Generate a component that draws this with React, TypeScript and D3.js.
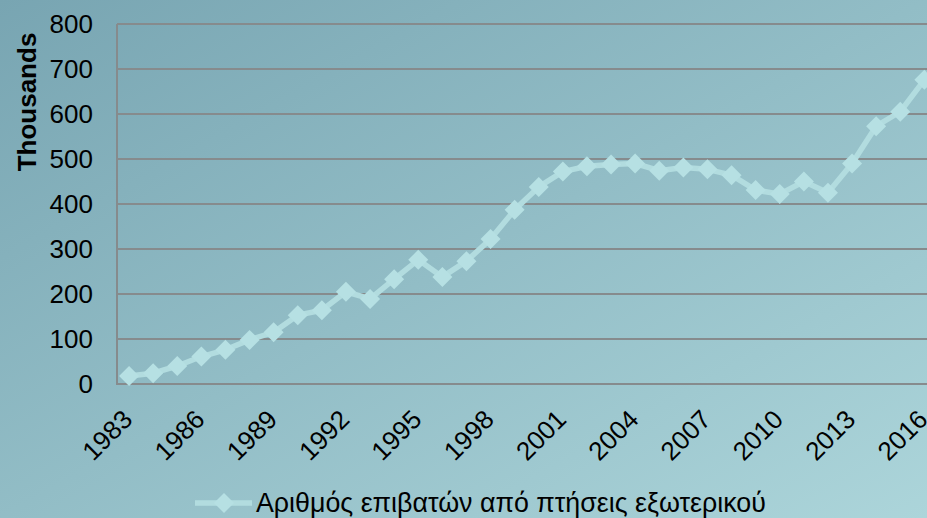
import * as d3 from "d3";

const years = d3.range(1983, 2017).map(String);
const passengers = [
  18, 24, 40, 61, 76, 98, 115, 153, 164, 205, 189, 233, 276, 238, 273, 322, 387,
  438, 472, 484, 488, 490, 474, 481, 477, 464, 431, 422, 450, 425, 490, 573, 605, 676,
];
const yTicks = [0, 100, 200, 300, 400, 500, 600, 700, 800];
const xTickLabels = years.filter((_, i) => i % 3 === 0);
const seriesName = "Αριθμός επιβατών από πτήσεις εξωτερικού";
const yTitle = "Thousands";

const App = () => {
  const width = 927;
  const height = 518;
  const plot = { left: 117, right: 936.4, top: 24, bottom: 384 };

  const xScale = d3
    .scaleBand()
    .domain(years)
    .range([plot.left, plot.right]);
  const yScale = d3
    .scaleLinear()
    .domain([0, 800])
    .range([plot.bottom, plot.top]);

  const cx = (y: string) => (xScale(y) as number) + xScale.bandwidth() / 2;

  const line = d3
    .line<number>()
    .x((_, i) => cx(years[i]))
    .y((d) => yScale(d));

  const diamond = (x: number, y: number, r: number) =>
    `M${x},${y - r}L${x + r},${y}L${x},${y + r}L${x - r},${y}Z`;

  const font = "'Liberation Sans', Arial, sans-serif";
  const fs = 26;

  return (
    <div style={{ position: "absolute", left: 0, top: 0, width, height, overflow: "hidden" }}>
      <svg width={width} height={height} viewBox={`0 0 ${width} ${height}`} style={{ display: "block" }}>
        <defs>
          <linearGradient id="bg" x1="0" y1="0" x2="1" y2="1">
            <stop offset="0%" stopColor="#78a5b2" />
            <stop offset="100%" stopColor="#acd5da" />
          </linearGradient>
        </defs>
        <rect width={width} height={height} fill="url(#bg)" />

        {yTicks.map((t) => (
          <g key={t}>
            <line
              x1={plot.left}
              x2={plot.right}
              y1={yScale(t)}
              y2={yScale(t)}
              stroke="#868b8d"
              strokeWidth={2}
            />
            <text
              x={93}
              y={yScale(t)}
              textAnchor="end"
              dominantBaseline="central"
              fontFamily={font}
              fontSize={fs}
              fill="#000"
            >
              {t}
            </text>
          </g>
        ))}
        <line x1={plot.left} x2={plot.left} y1={plot.top} y2={plot.bottom + 1} stroke="#868b8d" strokeWidth={2} />

        <text
          transform="translate(36,102) rotate(-90)"
          textAnchor="middle"
          fontFamily={font}
          fontWeight="bold"
          fontSize={fs}
          fill="#000"
        >
          {yTitle}
        </text>

        {xTickLabels.map((y) => (
          <text
            key={y}
            transform={`translate(${cx(y) + 5},421) rotate(-45)`}
            textAnchor="end"
            fontFamily={font}
            fontSize={fs}
            fill="#000"
          >
            {y}
          </text>
        ))}

        <path d={line(passengers) ?? ""} fill="none" stroke="#b2dcdf" strokeWidth={5.5} strokeLinejoin="round" />
        {passengers.map((v, i) => (
          <path key={years[i]} d={diamond(cx(years[i]), yScale(v), 10)} fill="#b6e0e3" />
        ))}

        <g>
          <line x1={195} x2={252} y1={503} y2={503} stroke="#b2dcdf" strokeWidth={5.5} />
          <path d={diamond(224, 503, 10)} fill="#b6e0e3" />
          <text x={256} y={503} dominantBaseline="central" fontFamily={font} fontSize={26.8} fill="#000">
            {seriesName}
          </text>
        </g>
      </svg>
    </div>
  );
};

export default App;
